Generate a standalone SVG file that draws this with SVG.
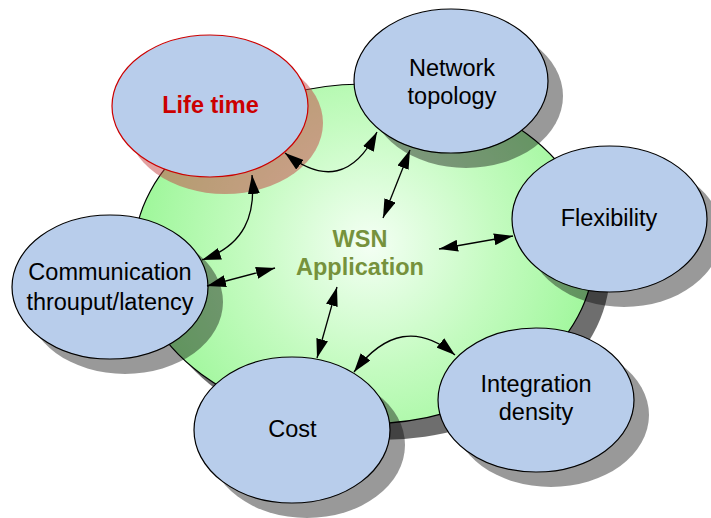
<svg xmlns="http://www.w3.org/2000/svg" width="711" height="518" viewBox="0 0 711 518">
  <style>
    .node { fill: #b8cdeb; stroke: #000; stroke-width: 1.2; }
    .shadow { fill: #000; fill-opacity: 0.4; }
    .label { font-family: "Liberation Sans", Arial, sans-serif; font-size: 23.5px; fill: #000; text-anchor: middle; }
    .bold { font-weight: bold; }
    .conn { fill: none; stroke: #000; stroke-width: 1.3; marker-start: url(#head); marker-end: url(#head); }
  </style>
  <defs>
    <radialGradient id="hubFill" cx="370" cy="245" r="250" gradientUnits="userSpaceOnUse">
      <stop offset="0" stop-color="#f4fff4"/>
      <stop offset="0.5" stop-color="#c4fbc0"/>
      <stop offset="1" stop-color="#98f694"/>
    </radialGradient>
    <marker id="head" viewBox="0 0 19 12" refX="19" refY="6" markerWidth="19" markerHeight="12" markerUnits="userSpaceOnUse" orient="auto-start-reverse">
      <path d="M0,0 L19,6 L0,12 z" fill="#000"/>
    </marker>
  </defs>

  <!-- central application hub -->
  <g id="hub">
    <ellipse cx="380" cy="270" rx="230" ry="170" fill="#000" fill-opacity="0.57"/>
    <ellipse cx="364" cy="254" rx="230" ry="170" fill="url(#hubFill)" stroke="#000" stroke-width="1.2"/>
    <text class="label bold" x="360" y="247" fill="#76923c" style="fill:#76923c">WSN</text>
    <text class="label bold" x="360" y="275" style="fill:#76923c">Application</text>
  </g>

  <g id="lifetime">
    <ellipse cx="225" cy="123" rx="98" ry="71" fill="#c34141" fill-opacity="0.5"/>
    <ellipse cx="210" cy="106" rx="98" ry="71" fill="#b8cdeb" stroke="#cc0000" stroke-width="1.2"/>
    <text class="label bold" x="210.5" y="113" style="fill:#cc0000">Life time</text>
  </g>

  <g id="network-topology">
    <ellipse class="shadow" cx="466" cy="96" rx="97" ry="72"/>
    <ellipse class="node" cx="451" cy="81" rx="97" ry="72"/>
    <text class="label" x="452" y="76">Network</text>
    <text class="label" x="452" y="104">topology</text>
  </g>

  <g id="flexibility">
    <ellipse class="shadow" cx="624" cy="234" rx="97.5" ry="73"/>
    <ellipse class="node" cx="609.5" cy="219" rx="97.5" ry="73"/>
    <text class="label" x="609" y="226">Flexibility</text>
  </g>

  <g id="communication">
    <ellipse class="shadow" cx="125" cy="302" rx="98" ry="72"/>
    <ellipse class="node" cx="110" cy="287" rx="98" ry="72"/>
    <text class="label" x="110" y="280">Communication</text>
    <text class="label" x="110" y="310">throuput/latency</text>
  </g>

  <g id="cost">
    <ellipse class="shadow" cx="307" cy="445" rx="98" ry="73"/>
    <ellipse class="node" cx="292" cy="430" rx="98" ry="73"/>
    <text class="label" x="292.5" y="437">Cost</text>
  </g>

  <g id="integration-density">
    <ellipse class="shadow" cx="551" cy="415" rx="98" ry="72"/>
    <ellipse class="node" cx="536" cy="400" rx="98" ry="72"/>
    <text class="label" x="536" y="392">Integration</text>
    <text class="label" x="536" y="420">density</text>
  </g>

  <!-- two-way relations -->
  <g id="connectors">
    <path class="conn" d="M285,153 Q343,199 377,132"/>
    <path class="conn" d="M252,175 C256,215 245,245 202,260"/>
    <path class="conn" d="M410,150 L383,218"/>
    <path class="conn" d="M439,249 L513,236"/>
    <path class="conn" d="M207,286 L275,268"/>
    <path class="conn" d="M337,287 L317,358"/>
    <path class="conn" d="M354,372 Q401,310 455,355"/>
  </g>
</svg>
